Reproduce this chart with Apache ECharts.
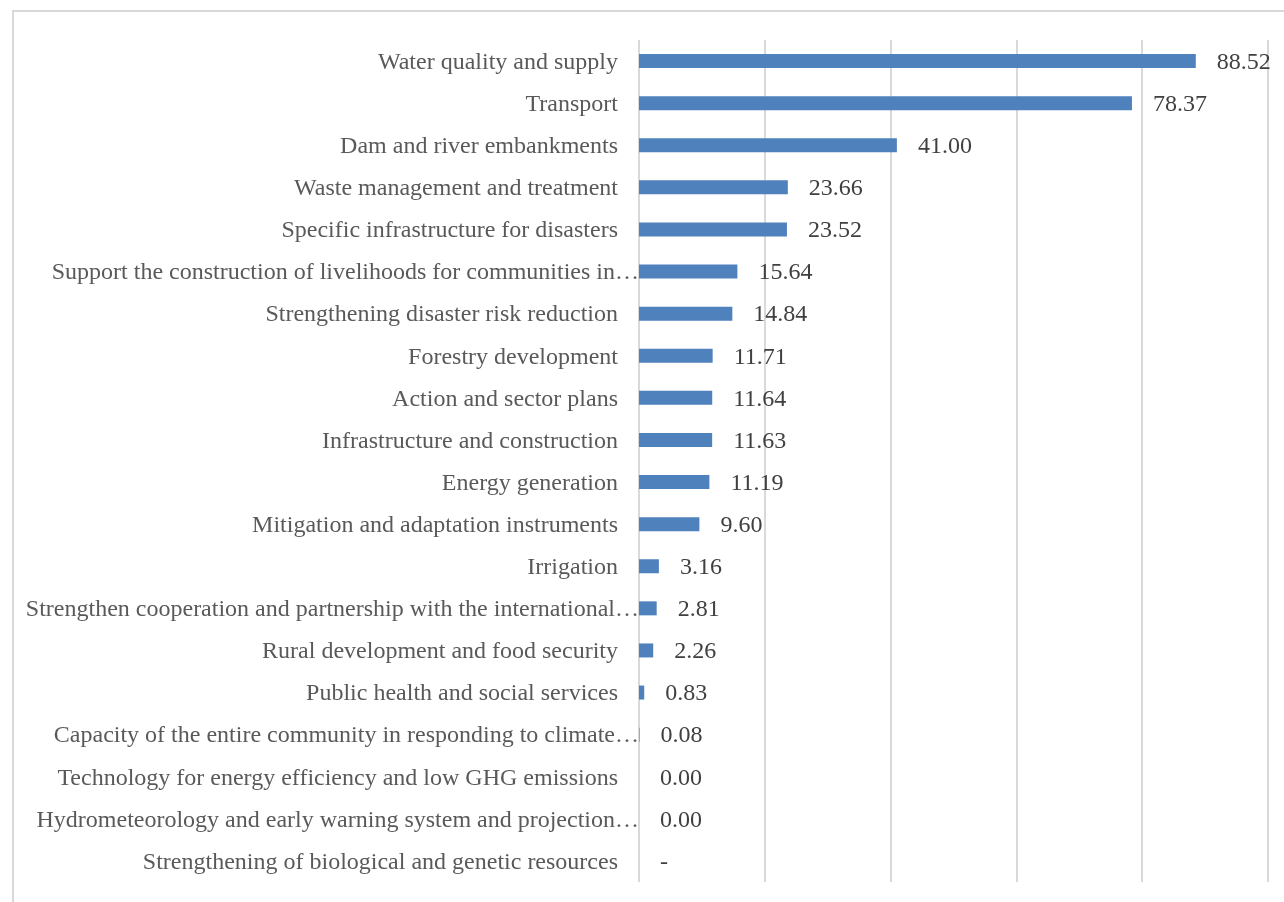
<!DOCTYPE html>
<html>
<head>
<meta charset="utf-8">
<script src="https://cdn.jsdelivr.net/npm/echarts@6/dist/echarts.min.js"></script>
<style>
  html, body { margin: 0; padding: 0; background: #fff; overflow: hidden; }
  #frame { position: absolute; left: 12px; top: 10px; width: 1400px; height: 1000px; border: 2px solid #d9d9d9; box-sizing: border-box; }
  #chart { position: absolute; left: 0; top: 0; width: 1284px; height: 902px; }
</style>
</head>
<body>
<div id="frame"></div>
<div id="chart"></div>
<script>
// Budget allocation by category (top to bottom)
const categories = [
  'Water quality and supply',
  'Transport',
  'Dam and river embankments',
  'Waste management and treatment',
  'Specific infrastructure for disasters',
  'Support the construction of livelihoods for communities in…',
  'Strengthening disaster risk reduction',
  'Forestry development',
  'Action and sector plans',
  'Infrastructure and construction',
  'Energy generation',
  'Mitigation and adaptation instruments',
  'Irrigation',
  'Strengthen cooperation and partnership with the international…',
  'Rural development and food security',
  'Public health and social services',
  'Capacity of the entire community in responding to climate…',
  'Technology for energy efficiency and low GHG emissions',
  'Hydrometeorology and early warning system and projection…',
  'Strengthening of biological and genetic resources'
];
// null = no value reported (shown as "-")
const values = [88.52, 78.37, 41.00, 23.66, 23.52, 15.64, 14.84, 11.71, 11.64, 11.63,
                11.19, 9.60, 3.16, 2.81, 2.26, 0.83, 0.08, 0.00, 0.00, null];
const xTicks = [0, 20, 40, 60, 80, 100];

const chart = echarts.init(document.getElementById('chart'));
const font = '"Liberation Serif", "Times New Roman", serif';
const axisColor = '#595959';
const valueColor = '#404040';
chart.setOption({
  animation: false,
  grid: { left: 639, right: 16, top: 40, bottom: 20, containLabel: false },
  xAxis: {
    type: 'value',
    min: xTicks[0],
    max: xTicks[xTicks.length - 1],
    interval: xTicks[1] - xTicks[0],
    axisLabel: { show: false },
    axisLine: { show: false },
    axisTick: { show: false },
    splitLine: { show: true, lineStyle: { color: '#d9d9d9', width: 2 } }
  },
  yAxis: {
    type: 'category',
    inverse: true,
    data: categories,
    axisLine: { show: false },
    axisTick: { show: false },
    axisLabel: {
      margin: 0,
      fontFamily: font,
      fontSize: 24,
      color: axisColor,
      formatter: function (name) {
        return name.endsWith('…') ? '{e|' + name + '}' : '{n|' + name + '}';
      },
      rich: {
        n: { fontFamily: font, fontSize: 24, color: axisColor, padding: [3, 21, 0, 0] },
        e: { fontFamily: font, fontSize: 24, color: axisColor, padding: [3, 0, 0, 0] }
      }
    }
  },
  series: [{
    type: 'bar',
    data: values.map(v => (v === null ? 0 : v)),
    barWidth: 14,
    itemStyle: { color: '#4f81bd' },
    label: {
      show: true,
      position: 'right',
      distance: 21,
      offset: [0, 1.5],
      fontFamily: font,
      fontSize: 24,
      color: valueColor,
      formatter: p => (values[p.dataIndex] === null ? '-' : values[p.dataIndex].toFixed(2))
    }
  }]
});
</script>
</body>
</html>
